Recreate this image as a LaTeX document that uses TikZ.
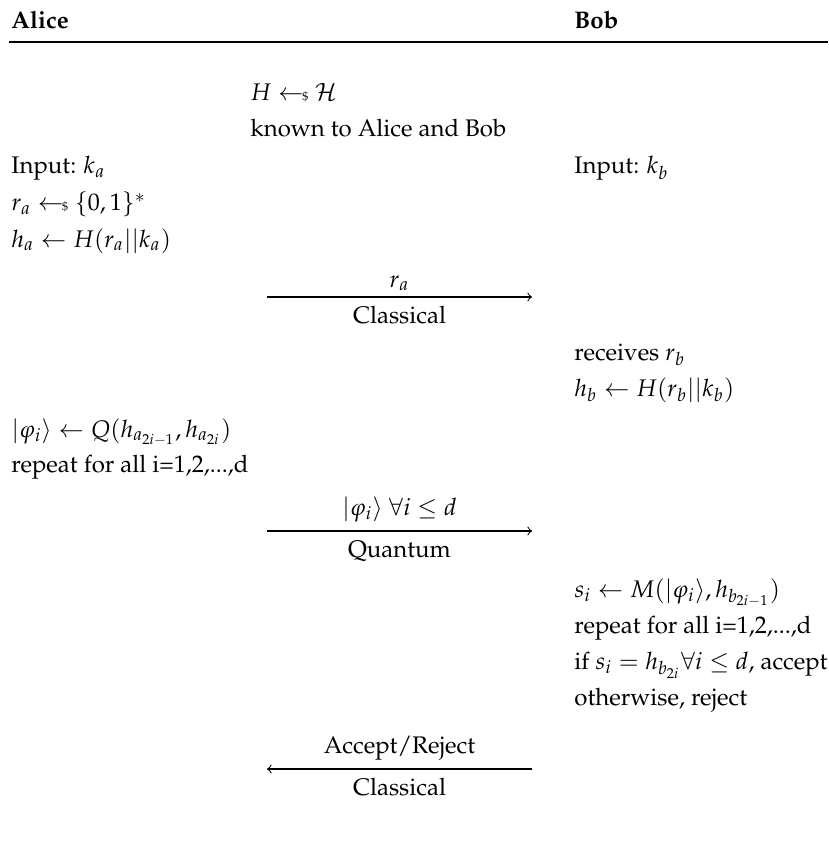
\documentclass[tikz,border=0pt]{standalone}
\usepackage[T1]{fontenc}
\usepackage{mathpazo}
\usepackage{amsmath,amssymb}
\newcommand\sampgets{\mathrel{\leftarrow\!\!\mbox{\tiny\$}}}
\begin{document}
\begin{tikzpicture}[x=0.41667pt,y=-0.41667pt,
  txt/.style={anchor=base west,inner sep=0pt},
  lbl/.style={anchor=base,inner sep=0pt},
  msgline/.style={line width=0.45pt,->},
  hrule/.style={line width=0.8pt}]
\useasboundingbox (0,0) rectangle (828,843);
% header
\node[txt] (alice) at (11,29) {\textbf{Alice}};
\node[txt] (bob) at (574,29) {\textbf{Bob}};
\coordinate (ruleL) at (9,42);
\coordinate (ruleR) at (828,42);
\draw[hrule] (ruleL) -- (ruleR);
% shared
\node[txt] (hsel) at (250,101) {$H \sampgets \mathcal{H}$};
\node[txt] (known) at (250,137) {known to Alice and Bob};
% Alice block 1
\node[txt] (ina) at (11,174) {Input: $k_a$};
\node[txt] (ra) at (11,211) {$r_a \sampgets \{0,1\}^*$};
\node[txt] (ha) at (11,247) {$h_a \leftarrow H(r_a||k_a)$};
\node[txt] (inb) at (574,174) {Input: $k_b$};
% message 1
\coordinate (m1s) at (267,297);
\coordinate (m1e) at (532,297);
\draw[msgline] (m1s) -- (m1e);
\node[lbl] (m1t) at (399.5,287) {$r_a$};
\node[lbl] (m1b) at (399.5,323) {Classical};
% Bob block 1
\node[txt] (recb) at (574,360) {receives $r_b$};
\node[txt] (hb) at (574,396) {$h_b \leftarrow H(r_b||k_b)$};
% Alice block 2
\node[txt] (phia) at (11,437) {$|\varphi_i\rangle \leftarrow Q(h_{a_{2i-1}},h_{a_{2i}})$};
\node[txt] (repa) at (11,472) {repeat for all i=1,2,...,d};
% message 2
\coordinate (m2s) at (267,531);
\coordinate (m2e) at (532,531);
\draw[msgline] (m2s) -- (m2e);
\node[lbl] (m2t) at (399.5,515) {$|\varphi_i\rangle\ \forall i \leq d$};
\node[lbl] (m2b) at (399.5,557) {Quantum};
% Bob block 2
\node[txt] (sib) at (574,597) {$s_i \leftarrow M(|\varphi_i\rangle,h_{b_{2i-1}})$};
\node[txt] (repb) at (574,633) {repeat for all i=1,2,...,d};
\node[txt] (ifb) at (574,669) {if $s_i = h_{b_{2i}} \forall i \leq d$, accept};
\node[txt] (othb) at (574,705) {otherwise, reject};
% message 3
\coordinate (m3s) at (532,769);
\coordinate (m3e) at (267,769);
\draw[msgline] (m3s) -- (m3e);
\node[lbl] (m3t) at (399.5,753) {Accept/Reject};
\node[lbl] (m3b) at (399.5,795) {Classical};
\end{tikzpicture}
\end{document}
